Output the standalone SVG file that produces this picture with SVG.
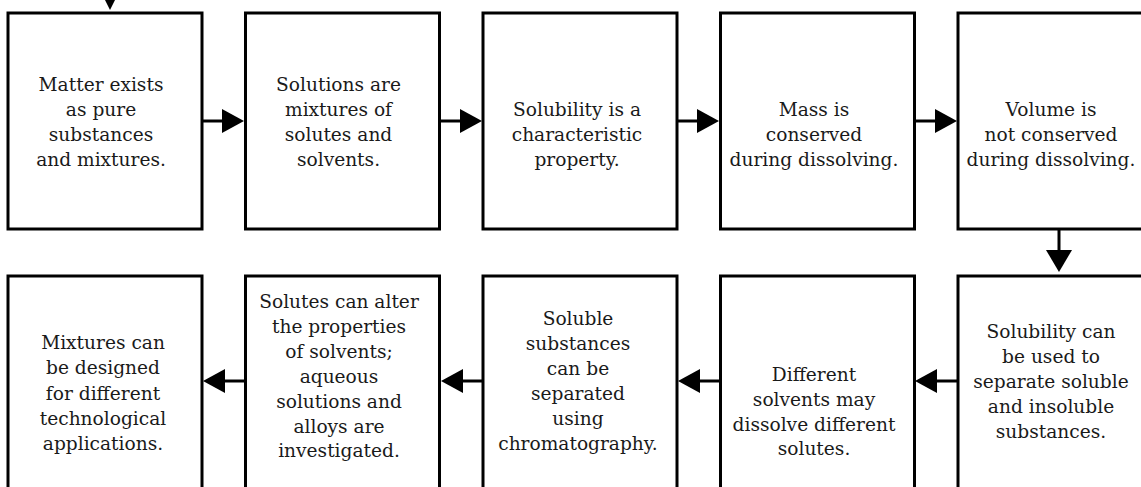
<svg xmlns="http://www.w3.org/2000/svg" width="1141" height="487" viewBox="0 0 1141 487">
<style>
.box{fill:#fff;stroke:#000;stroke-width:3}
.t{font-family:"DejaVu Serif","Liberation Serif",serif;font-size:18.6px;fill:#1a1a1a;text-anchor:middle}
.sh{stroke:#000;stroke-width:3;fill:none}
.hd{fill:#000}
</style>
<rect width="1141" height="487" fill="#fff"/>
<g id="connectors">
<polygon class="hd" points="99,-12 121,-12 110,10"/>
<line class="sh" x1="202" y1="121" x2="223" y2="121"/><polygon class="hd" points="222,109 244,121 222,133"/>
<line class="sh" x1="440" y1="121" x2="461" y2="121"/><polygon class="hd" points="460,109 482,121 460,133"/>
<line class="sh" x1="677" y1="121" x2="698" y2="121"/><polygon class="hd" points="697,109 719,121 697,133"/>
<line class="sh" x1="915" y1="121" x2="936" y2="121"/><polygon class="hd" points="935,109 957,121 935,133"/>
<line class="sh" x1="1059" y1="229" x2="1059" y2="251"/><polygon class="hd" points="1046,250 1072,250 1059,272"/>
<line class="sh" x1="957" y1="381" x2="936" y2="381"/><polygon class="hd" points="937,369 915,381 937,393"/>
<line class="sh" x1="720" y1="381" x2="699" y2="381"/><polygon class="hd" points="700,369 678,381 700,393"/>
<line class="sh" x1="482" y1="381" x2="461" y2="381"/><polygon class="hd" points="463,369 441,381 463,393"/>
<line class="sh" x1="245" y1="381" x2="224" y2="381"/><polygon class="hd" points="225,369 203,381 225,393"/>
</g>
<g id="n1"><rect class="box" x="8" y="13" width="194" height="216"/>
<text class="t"><tspan x="101" y="91">Matter exists</tspan><tspan x="101" y="116">as pure</tspan><tspan x="101" y="141">substances</tspan><tspan x="101" y="166">and mixtures.</tspan></text></g>
<g id="n2"><rect class="box" x="245.5" y="13" width="194" height="216"/>
<text class="t"><tspan x="338.5" y="91">Solutions are</tspan><tspan x="338.5" y="116">mixtures of</tspan><tspan x="338.5" y="141">solutes and</tspan><tspan x="338.5" y="166">solvents.</tspan></text></g>
<g id="n3"><rect class="box" x="483" y="13" width="194" height="216"/>
<text class="t"><tspan x="577" y="116">Solubility is a</tspan><tspan x="577" y="141">characteristic</tspan><tspan x="577" y="166">property.</tspan></text></g>
<g id="n4"><rect class="box" x="720.5" y="13" width="194" height="216"/>
<text class="t"><tspan x="814" y="116">Mass is</tspan><tspan x="814" y="141">conserved</tspan><tspan x="814" y="166">during dissolving.</tspan></text></g>
<g id="n5"><rect class="box" x="958" y="13" width="194" height="216"/>
<text class="t"><tspan x="1051" y="116">Volume is</tspan><tspan x="1051" y="141">not conserved</tspan><tspan x="1051" y="166">during dissolving.</tspan></text></g>
<g id="n6"><rect class="box" x="958" y="276" width="194" height="230"/>
<text class="t"><tspan x="1051" y="338">Solubility can</tspan><tspan x="1051" y="363">be used to</tspan><tspan x="1051" y="388">separate soluble</tspan><tspan x="1051" y="413">and insoluble</tspan><tspan x="1051" y="438">substances.</tspan></text></g>
<g id="n7"><rect class="box" x="720.5" y="276" width="194" height="230"/>
<text class="t"><tspan x="814" y="381">Different</tspan><tspan x="814" y="406">solvents may</tspan><tspan x="814" y="431">dissolve different</tspan><tspan x="814" y="455">solutes.</tspan></text></g>
<g id="n8"><rect class="box" x="483" y="276" width="194" height="230"/>
<text class="t"><tspan x="578" y="325">Soluble</tspan><tspan x="578" y="350">substances</tspan><tspan x="578" y="375">can be</tspan><tspan x="578" y="400">separated</tspan><tspan x="578" y="425">using</tspan><tspan x="578" y="450">chromatography.</tspan></text></g>
<g id="n9"><rect class="box" x="245.5" y="276" width="194" height="230"/>
<text class="t"><tspan x="339" y="308">Solutes can alter</tspan><tspan x="339" y="333">the properties</tspan><tspan x="339" y="358">of solvents;</tspan><tspan x="339" y="383">aqueous</tspan><tspan x="339" y="408">solutions and</tspan><tspan x="339" y="433">alloys are</tspan><tspan x="339" y="457">investigated.</tspan></text></g>
<g id="n10"><rect class="box" x="8" y="276" width="194" height="230"/>
<text class="t"><tspan x="103" y="349">Mixtures can</tspan><tspan x="103" y="374">be designed</tspan><tspan x="103" y="400">for different</tspan><tspan x="103" y="425">technological</tspan><tspan x="103" y="450">applications.</tspan></text></g>
</svg>
